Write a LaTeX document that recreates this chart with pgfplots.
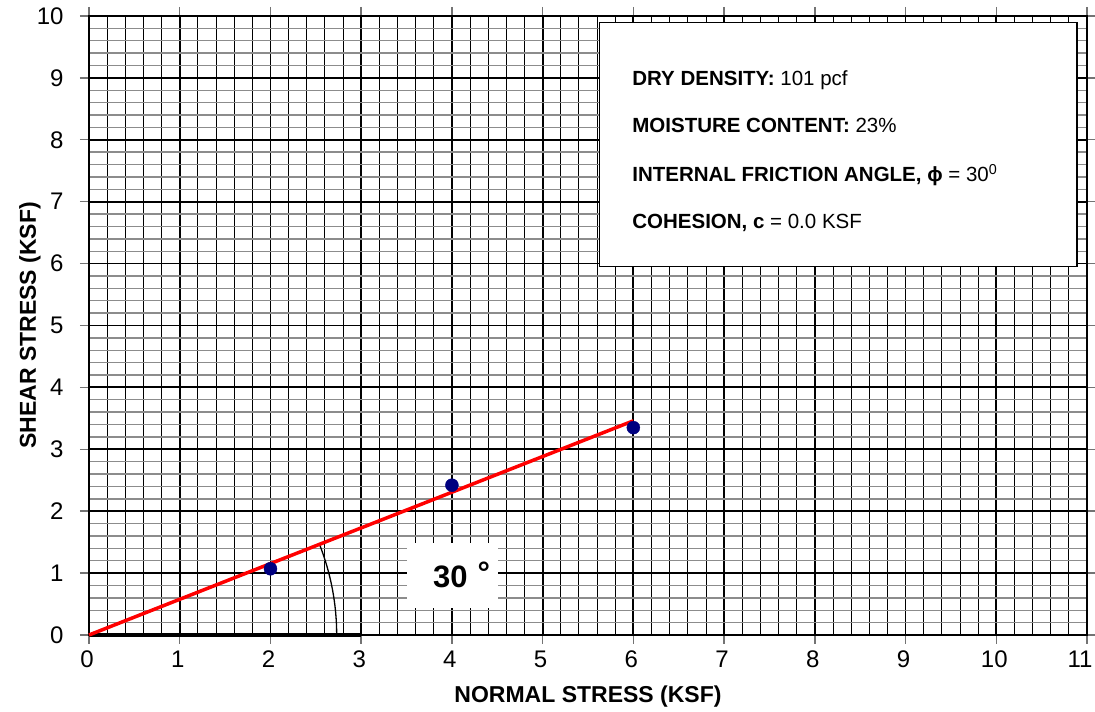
\documentclass[border=0pt]{standalone}
\usepackage{fontspec}
\setmainfont{Liberation Sans}
\usepackage{pgfplots}
\pgfplotsset{compat=1.18}
\definecolor{ptblue}{HTML}{000080}
\begin{document}
\begin{tikzpicture}
\begin{axis}[
  name=ax,
  scale only axis, width=998pt, height=619pt,
  xmin=0, xmax=11, ymin=0, ymax=10,
  xtick={0,1,...,11}, ytick={0,1,...,10},
  xticklabels={0,1,2,3,4,5,6,7,8,9,10,\hspace*{-10pt}11},
  minor x tick num=4, minor y tick num=4,
  grid=both,
  major grid style={black, line width=1.8pt},
  minor x grid style={black, line width=0.9pt},
  minor y grid style={black!45, line width=1.4pt},
  tick align=outside, major tick length=9pt, minor tick length=0pt,
  tick style={black!55, line width=1.4pt},
  axis line style={black, line width=1.8pt},
  tick label style={font=\fontsize{24}{24}\selectfont},
  xticklabel style={yshift=-3pt, xshift=-2pt},
  yticklabel style={xshift=-13pt},
  /pgf/number format/assume math mode=true,
  clip=false,
]
% thick base of angle
\addplot[black, line width=4pt] coordinates {(0,0) (3,0)};
% angle arc
\draw[black, line width=1.3pt] (axis cs:2.73,0) arc[start angle=0, end angle=21.5, radius=247.7pt];
% failure envelope
\addplot[red, line width=3.5pt] coordinates {(0,0) (6,3.46)};
% test points
\addplot[only marks, mark=*, mark size=6.5pt, ptblue] coordinates {(2,1.07) (4,2.42) (6,3.35)};
% info box
\draw[black, fill=white, line width=1.2pt] (axis cs:5.63,5.95) rectangle (axis cs:10.89,9.9);
\node[anchor=base west, font=\fontsize{20.5}{21}\selectfont] at (axis cs:5.95,8.885) {\textbf{DRY DENSITY:} 101 pcf};
\node[anchor=base west, font=\fontsize{20.5}{21}\selectfont] at (axis cs:5.95,8.11) {\textbf{MOISTURE CONTENT:} 23\%};
\node[anchor=base west, font=\fontsize{20.5}{21}\selectfont] at (axis cs:5.95,7.32) {\textbf{INTERNAL FRICTION ANGLE, ϕ} = 30\textsuperscript{0}};
\node[anchor=base west, font=\fontsize{20.5}{21}\selectfont] at (axis cs:5.95,6.575) {\textbf{COHESION, c} = 0.0 KSF};
% angle label
\fill[white] (axis cs:3.505,0.436) rectangle (axis cs:4.508,1.486);
\node[anchor=base west, inner sep=0pt, font=\fontsize{31}{31}\selectfont\bfseries] at (axis cs:3.79,0.76) {30\hspace{10pt}\raisebox{4pt}{°}};
\end{axis}
\node[font=\fontsize{23}{23}\selectfont\bfseries] at ([yshift=-62pt]ax.south) {NORMAL STRESS (KSF)};
\node[rotate=90, font=\fontsize{23}{23}\selectfont\bfseries] at ([xshift=-59pt]ax.west) {SHEAR STRESS (KSF)};
\pgfresetboundingbox
\path ([xshift=-89pt,yshift=-77pt]ax.south west) rectangle ([xshift=8pt,yshift=16pt]ax.north east);
\end{tikzpicture}
\end{document}
